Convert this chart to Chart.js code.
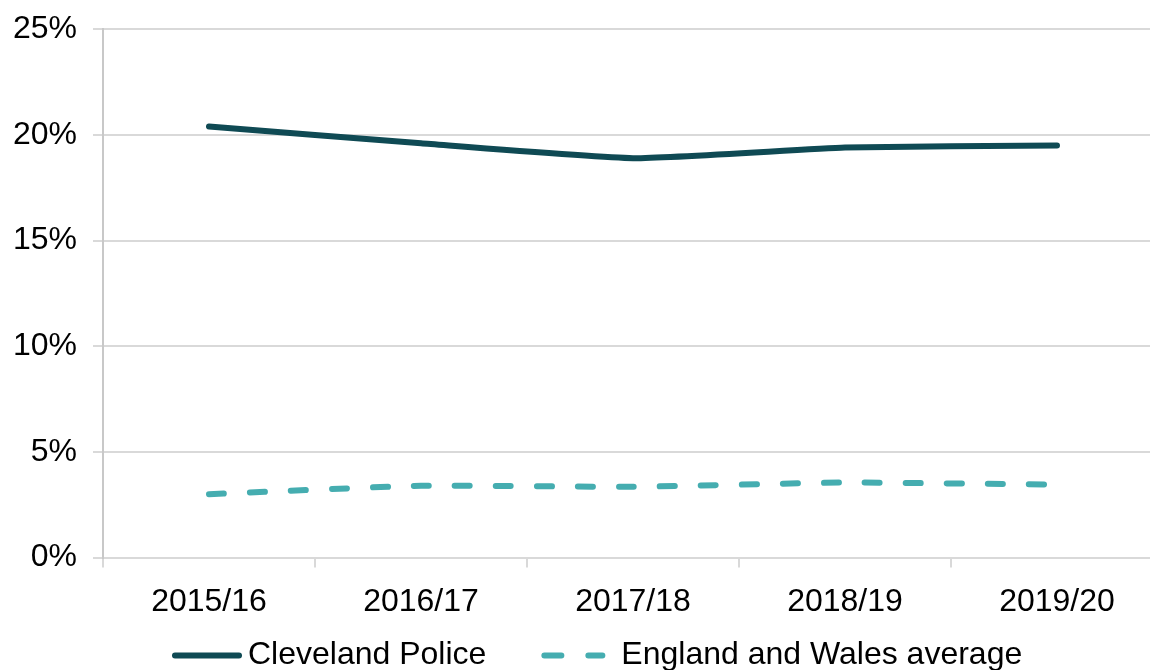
<!DOCTYPE html>
<html>
<head>
<meta charset="utf-8">
<script src="https://cdn.jsdelivr.net/npm/chart.js@4.4.1/dist/chart.umd.min.js"></script>
<style>
  html, body { margin: 0; padding: 0; background: #fff; overflow: hidden; }
  #wrap { position: absolute; left: 0; top: -6px; width: 1163px; height: 690px; }
</style>
</head>
<body>
<div id="wrap"><canvas id="chart"></canvas></div>
<script>
// Categories and series
const years = ['2015/16', '2016/17', '2017/18', '2018/19', '2019/20'];
const cleveland = [20.4, 19.6, 18.9, 19.4, 19.5];
const englandWales = [3.0, 3.4, 3.35, 3.55, 3.45];
const yTicks = [0, 5, 10, 15, 20, 25];

const fontFamily = '"Liberation Sans", Arial, sans-serif';

// Legend drawn by hand so the dashed sample keeps its dash pattern
const lineLegend = {
    id: 'lineLegend',
    afterDraw(chart) {
        const c = chart.ctx;
        const y = chart.chartArea.bottom + 98;
        const samples = [70, 64];
        const afterSample = [6, 16];
        const between = 55;
        let x = 172;
        c.save();
        c.font = '32px ' + fontFamily;
        c.textBaseline = 'middle';
        c.fillStyle = '#000';
        chart.data.datasets.forEach((ds, i) => {
            c.beginPath();
            c.strokeStyle = ds.borderColor;
            c.lineWidth = ds.borderWidth;
            c.lineCap = 'round';
            c.setLineDash(ds.borderDash ? [17, 27] : []);
            const w = samples[i];
            c.moveTo(x + 3, y);
            c.lineTo(x + w - 3, y);
            c.stroke();
            c.setLineDash([]);
            x += w + afterSample[i];
            c.fillText(ds.label, x, y);
            x += c.measureText(ds.label).width + between;
        });
        c.restore();
    }
};

const ctx = document.getElementById('chart').getContext('2d');
new Chart(ctx, {
    type: 'line',
    data: {
        labels: years,
        datasets: [{
            label: 'Cleveland Police',
            data: cleveland,
            borderColor: '#0f4a54',
            borderWidth: 6,
            borderCapStyle: 'round',
            pointRadius: 0,
            tension: 0.15,
            fill: false
        }, {
            label: 'England and Wales average',
            data: englandWales,
            borderColor: '#45adb0',
            borderWidth: 6,
            borderDash: [15, 26],
            borderCapStyle: 'round',
            pointRadius: 0,
            tension: 0.15,
            fill: false
        }]
    },
    options: {
        responsive: true,
        maintainAspectRatio: false,
        animation: false,
        layout: { padding: { top: 0, left: 0, right: 0, bottom: 48 } },
        plugins: {
            tooltip: { enabled: false },
            legend: { display: false }
        },
        scales: {
            x: {
                offset: true,
                grid: {
                    offset: true,
                    drawOnChartArea: false,
                    color: '#d9d9d9',
                    lineWidth: 2,
                    tickLength: 10
                },
                border: { color: '#d9d9d9', width: 2 },
                ticks: {
                    color: '#000',
                    font: { family: fontFamily, size: 32 },
                    padding: 15,
                    maxRotation: 0
                }
            },
            y: {
                min: 0,
                max: 25,
                afterBuildTicks: function(axis) {
                    axis.ticks = yTicks.map(v => ({ value: v }));
                },
                afterFit: function(axis) { axis.width = 103; },
                grid: {
                    color: '#d9d9d9',
                    lineWidth: 2,
                    tickLength: 10
                },
                border: { color: '#c8c8c8', width: 2 },
                ticks: {
                    color: '#000',
                    font: { family: fontFamily, size: 32 },
                    padding: 16,
                    callback: v => v + '%'
                }
            }
        }
    },
    plugins: [lineLegend]
});
</script>
</body>
</html>
